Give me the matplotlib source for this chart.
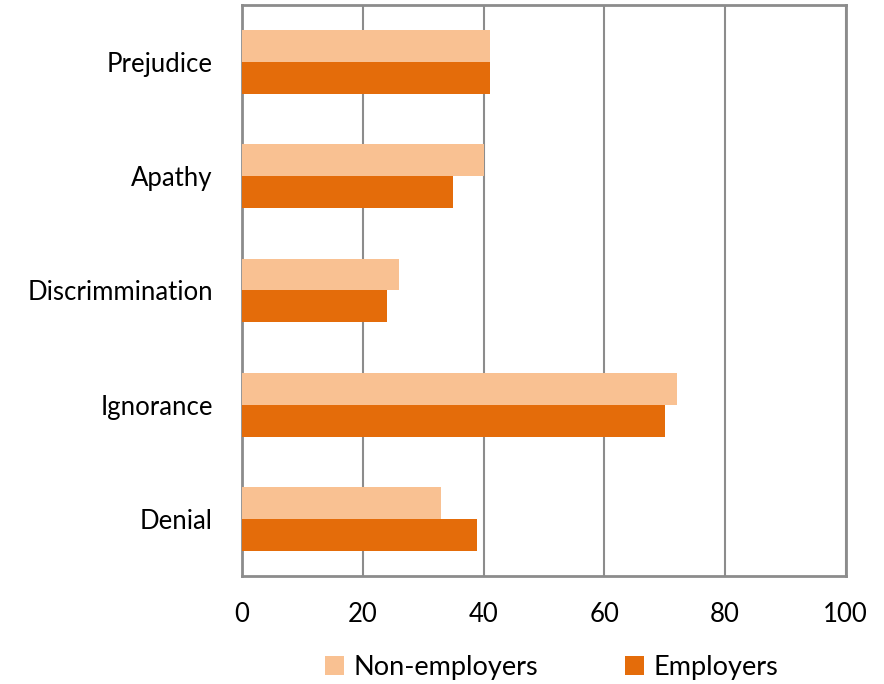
import matplotlib
matplotlib.use("Agg")
import matplotlib.pyplot as plt
import numpy as np

categories = ["Prejudice", "Apathy", "Discrimmination", "Ignorance", "Denial"]
non_employers = [41, 40, 26, 72, 33]
employers = [41, 35, 24, 70, 39]
x_ticks = [0, 20, 40, 60, 80, 100]

plt.rcParams["font.family"] = ["Lato", "DejaVu Sans"]

fig = plt.figure(figsize=(8.84, 6.84), dpi=100)
ax = fig.add_axes([0.2738, 0.1579, 0.6829, 0.8348])

y = np.arange(len(categories))
h = 0.28
ax.barh(y - h / 2, non_employers, height=h, color="#F9C192", label="Non-employers", zorder=3)
ax.barh(y + h / 2, employers, height=h, color="#E46C0A", label="Employers", zorder=3)

ax.set_ylim(len(categories) - 0.5, -0.5)
ax.set_xlim(0, 100)
ax.set_xticks(x_ticks)
ax.set_xticklabels([str(t) for t in x_ticks])
ax.set_yticks(y)
ax.set_yticklabels(categories)
ax.tick_params(axis="both", length=0, labelsize=18.5, colors="#000000")
ax.tick_params(axis="x", pad=19)
ax.tick_params(axis="y", pad=21)

ax.grid(axis="x", color="#8C8C8C", linewidth=1.5, zorder=0)
for s in ax.spines.values():
    s.set_color("#8C8C8C")
    s.set_linewidth(2)

leg = fig.legend(loc="lower center", bbox_to_anchor=(0.624, -0.03), ncol=2, frameon=False,
                 fontsize=19.5, handlelength=0.7, handleheight=0.7, handletextpad=0.35,
                 columnspacing=3.2)

fig.savefig("out.png", dpi=100)
